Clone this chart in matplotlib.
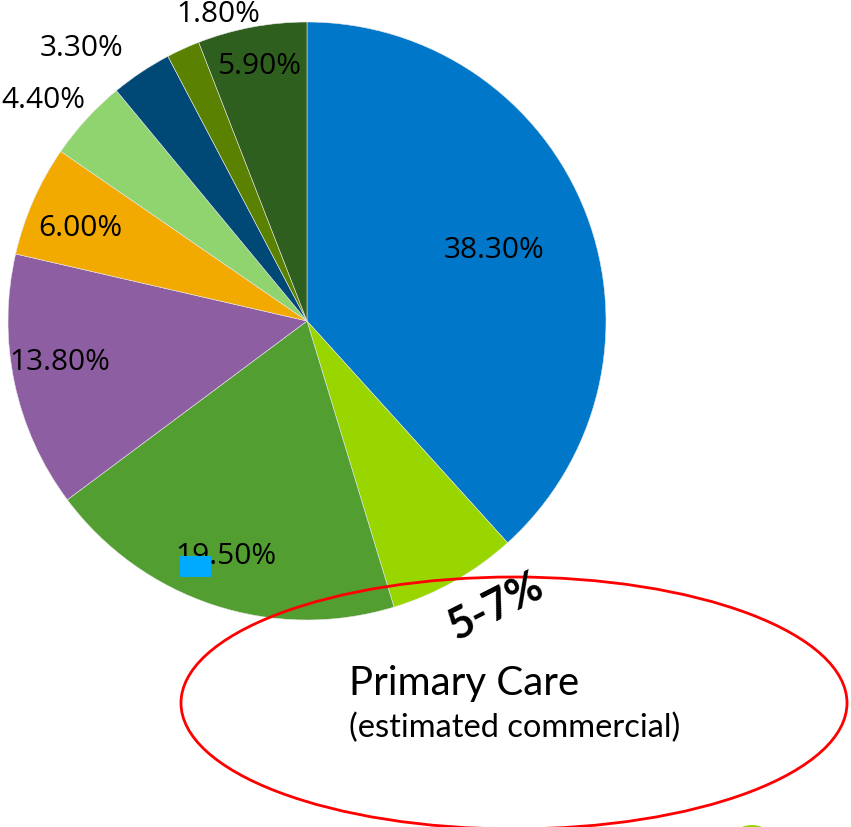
import matplotlib
matplotlib.use("Agg")
import matplotlib.pyplot as plt
from matplotlib.patches import Ellipse, Rectangle

W, H = 851, 827

# Data (clockwise from 12 o'clock)
categories = ["Hospital", "Primary Care", "Physician/Specialist", "Other professional",
              "Dental", "Home health", "Nursing", "Equipment", "Rx/other"]
values = [38.3, 7.0, 19.5, 13.8, 6.0, 4.4, 3.3, 1.8, 5.9]
labels = ["38.30%", "", "19.50%", "13.80%", "6.00%", "4.40%", "3.30%", "1.80%", "5.90%"]
colors = ["#0077C8", "#99D600", "#529E31", "#8E5EA2", "#F2A900",
          "#8FD46E", "#004876", "#5A8200", "#2F5F1E"]

# label positions in pixel coords (x, y from top)
label_pos = [(494, 250), None, (226, 557), (60, 363), (80, 228),
             (43, 100), (82, 48), (218, 15), (259, 67)]

def Y(p):
    return H - p

fig = plt.figure(figsize=(W / 100, H / 100), dpi=100)
ax = fig.add_axes([0, 0, 1, 1])

ax.pie(values, colors=colors, startangle=90, counterclock=False,
       center=(307, Y(321)), radius=299, frame=True,
       wedgeprops=dict(linewidth=0.4, edgecolor="#E8E8E8"))
ax.set_xlim(0, W)
ax.set_ylim(0, H)
ax.set_aspect("equal")
ax.axis("off")

for lab, pos in zip(labels, label_pos):
    if pos is None or not lab:
        continue
    ax.text(pos[0], Y(pos[1]), lab, ha="center", va="center",
            fontsize=21.5, family="Open Sans", color="black")

# small blue square
ax.add_patch(Rectangle((180, Y(577)), 31, 21, facecolor="#00AAFF", edgecolor="none", zorder=5))

# red ellipse annotation
ax.add_patch(Ellipse((514, Y(703)), 666, 252, facecolor="none", edgecolor="#FF0000",
                     linewidth=2, zorder=6))

ax.text(495, Y(606), "5-7%", ha="center", va="center", rotation=27,
        fontsize=31, fontweight="bold", family="Lato", color="black", zorder=7)
ax.text(349, Y(683), "Primary Care", ha="left", va="center",
        fontsize=29, family="Lato", color="black", zorder=7)
ax.text(349, Y(728), "(estimated commercial)", ha="left", va="center",
        fontsize=23.5, family="Lato", color="black", zorder=7)

# partially visible shape at bottom right
ax.add_patch(Ellipse((752, Y(840)), 40, 30, facecolor="#99D600", edgecolor="none", zorder=5))

fig.savefig("out.png", dpi=100)
